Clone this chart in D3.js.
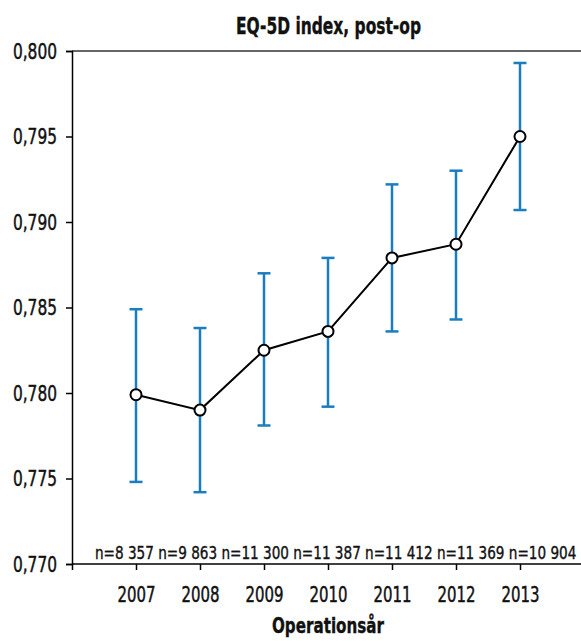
<!DOCTYPE html>
<html><head><meta charset="utf-8">
<script src="https://cdnjs.cloudflare.com/ajax/libs/d3/7.8.5/d3.min.js"></script>
<style>body{margin:0;background:#fff}svg{display:block}</style>
</head><body>
<svg id="c" width="581" height="642"></svg>
<script>
const years = [2007, 2008, 2009, 2010, 2011, 2012, 2013];
const means = [0.7799, 0.7790, 0.7825, 0.7836, 0.7879, 0.7887, 0.7950];
const upper = [0.7849, 0.7838, 0.7870, 0.7879, 0.7922, 0.7930, 0.7993];
const lower = [0.7748, 0.7742, 0.7781, 0.7792, 0.7836, 0.7843, 0.7907];
const nLabels = ["n=8 357", "n=9 863", "n=11 300", "n=11 387", "n=11 412", "n=11 369", "n=10 904"];
const yTicks = [0.770, 0.775, 0.780, 0.785, 0.790, 0.795, 0.800];

(function () {
const font = "'DejaVu Sans', sans-serif";
const svg = d3.select("#c");
const mL = 72, mR = 584, mT = 51, mB = 564;

const x = d3.scaleLinear().domain([2006, 2014]).range([mL, mR]);
const y = d3.scaleLinear().domain([0.770, 0.800]).range([mB, mT]);

function condense(sel, ratio) {
  sel.each(function () {
    const w = this.getComputedTextLength();
    d3.select(this).attr("textLength", w * ratio).attr("lengthAdjust", "spacingAndGlyphs");
  });
}

// top border
svg.append("line").attr("x1", mL).attr("x2", 581).attr("y1", mT).attr("y2", mT)
  .attr("stroke", "#333").attr("stroke-width", 1.5);

// y axis
const ya = svg.append("g").attr("transform", `translate(${mL},0)`)
  .call(d3.axisLeft(y).tickValues(yTicks).tickSize(6).tickPadding(9)
    .tickFormat(d => d3.format(".3f")(d).replace(".", ",")));
ya.select(".domain").attr("stroke", "#000").attr("stroke-width", 1.5);
ya.selectAll(".tick line").attr("stroke", "#000").attr("stroke-width", 1.5);
ya.selectAll("text").attr("font-family", font).attr("font-size", 22).attr("fill", "#111")
  .attr("stroke", "#111").attr("stroke-width", 0.5);
condense(ya.selectAll("text"), 0.70);

// x axis
const xa = svg.append("g").attr("transform", `translate(0,${mB})`)
  .call(d3.axisBottom(x).tickValues([2006].concat(years)).tickSize(6).tickPadding(16)
    .tickFormat(d => d === 2006 ? "" : String(d)));
xa.select(".domain").attr("d", `M${mL},0H581`).attr("stroke", "#000").attr("stroke-width", 1.5);
xa.selectAll(".tick line").attr("stroke", "#000").attr("stroke-width", 1.5);
xa.selectAll("text").attr("font-family", font).attr("font-size", 22).attr("fill", "#111")
  .attr("stroke", "#111").attr("stroke-width", 0.5);
condense(xa.selectAll("text").filter(function () { return this.textContent !== ""; }), 0.68);

// n labels (one flowing row, as in the reference), compressed horizontally
const ng = svg.append("g");
const nt = ng.append("text").attr("x", 0).attr("y", 0)
  .attr("font-family", font).attr("font-size", 17).attr("fill", "#111")
  .attr("stroke", "#111").attr("stroke-width", 0.4)
  .text(nLabels.join(" "));
const natural = nt.node().getComputedTextLength();
ng.attr("transform", `translate(${x(2007) - 41},${mB - 5}) scale(${482 / natural},1)`);

// error bars
const eb = svg.append("g").attr("stroke", "#1a7dc0").attr("stroke-width", 2.5);
years.forEach((yr, i) => {
  eb.append("line").attr("x1", x(yr)).attr("x2", x(yr)).attr("y1", y(upper[i])).attr("y2", y(lower[i]));
  eb.append("line").attr("x1", x(yr) - 6.5).attr("x2", x(yr) + 6.5).attr("y1", y(upper[i])).attr("y2", y(upper[i]));
  eb.append("line").attr("x1", x(yr) - 6.5).attr("x2", x(yr) + 6.5).attr("y1", y(lower[i])).attr("y2", y(lower[i]));
});

// line
svg.append("path").datum(years.map((yr, i) => [yr, means[i]]))
  .attr("d", d3.line().x(d => x(d[0])).y(d => y(d[1])))
  .attr("fill", "none").attr("stroke", "#000").attr("stroke-width", 2);

// points
svg.append("g").selectAll("circle").data(years).join("circle")
  .attr("cx", d => x(d)).attr("cy", (d, i) => y(means[i])).attr("r", 5.5)
  .attr("fill", "#fff").attr("stroke", "#000").attr("stroke-width", 2);

// titles
svg.append("text").attr("x", 328.5).attr("y", 34).attr("text-anchor", "middle")
  .attr("font-family", font).attr("font-size", 23).attr("font-weight", "bold").attr("fill", "#111")
  .attr("stroke", "#111").attr("stroke-width", 0.4)
  .attr("textLength", 185).attr("lengthAdjust", "spacingAndGlyphs").text("EQ-5D index, post-op");
svg.append("text").attr("x", 328).attr("y", 633).attr("text-anchor", "middle")
  .attr("font-family", font).attr("font-size", 22).attr("font-weight", "bold").attr("fill", "#111")
  .attr("stroke", "#111").attr("stroke-width", 0.4)
  .attr("textLength", 112).attr("lengthAdjust", "spacingAndGlyphs").text("Operationsår");
})();
</script>
</body></html>
